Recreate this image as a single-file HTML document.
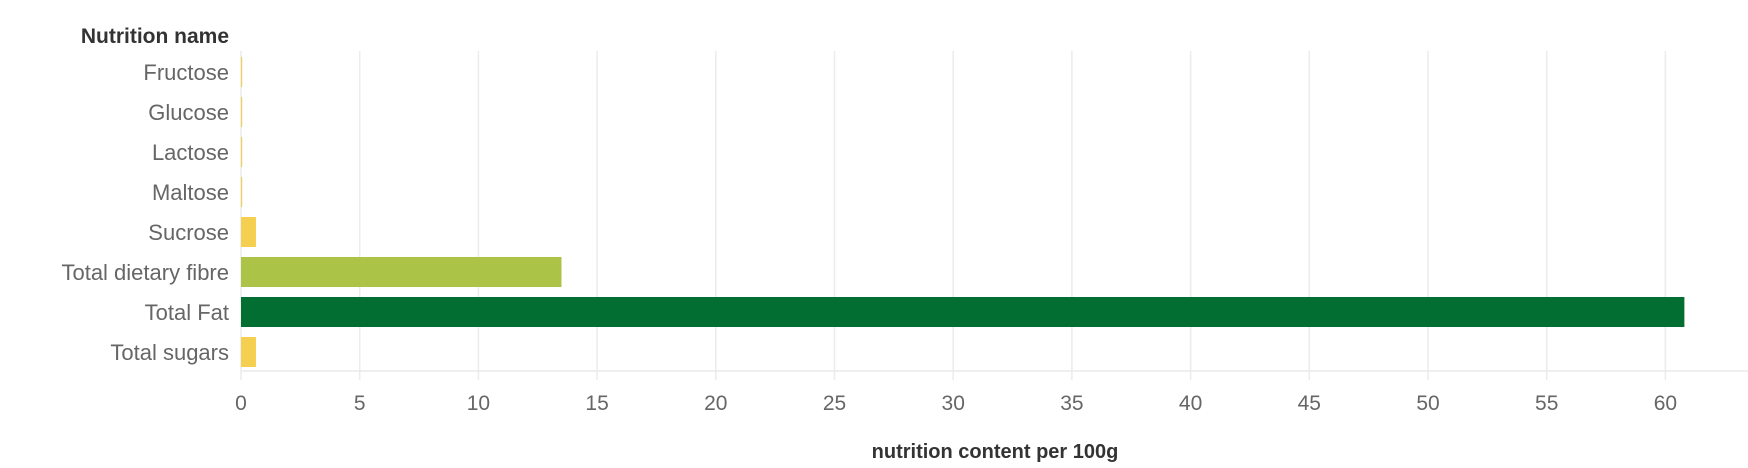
<!DOCTYPE html>
<html><head><meta charset="utf-8"><style>
html,body{margin:0;padding:0;background:#fff;}
svg{display:block;font-family:"Liberation Sans",sans-serif;}
</style></head><body>
<svg id="chart" width="1748" height="468" viewBox="0 0 1748 468" xmlns="http://www.w3.org/2000/svg">
<text x="229" y="43" text-anchor="end" font-size="21" font-weight="bold" fill="#333">Nutrition name</text>
<g id="grid"></g><g id="bars"></g><g id="ylabels"></g><g id="xticks"></g>
<text x="995" y="458" text-anchor="middle" font-size="20" font-weight="bold" fill="#333">nutrition content per 100g</text>
</svg>
<script>
const categories = ["Fructose","Glucose","Lactose","Maltose","Sucrose","Total dietary fibre","Total Fat","Total sugars"];
const values = [0.05,0.05,0.05,0.05,0.63,13.5,60.8,0.63];
const barColors = ["#f5cf4f","#f5cf4f","#f5cf4f","#f5cf4f","#f5cf4f","#abc448","#036e31","#f5cf4f"];
const tickValues = [0,5,10,15,20,25,30,35,40,45,50,55,60];
const NS="http://www.w3.org/2000/svg";
const x0=241, pxPerUnit=23.74, rowTop=52, rowH=40, barH=30, axisY=371;
const xs=v=>x0+v*pxPerUnit;
const ys=i=>rowTop+i*rowH;
function mk(tag,attrs,parent){const e=document.createElementNS(NS,tag);for(const k in attrs)e.setAttribute(k,attrs[k]);parent.appendChild(e);return e;}
const grid=document.getElementById('grid'),bars=document.getElementById('bars'),yl=document.getElementById('ylabels'),xt=document.getElementById('xticks');
tickValues.forEach(t=>{
  const g=mk('line',{x1:xs(t),x2:xs(t),y1:51,y2:380,stroke:'#ececec','stroke-width':1.5},grid);
  
  
  const l=mk('text',{x:xs(t),y:410,'text-anchor':'middle','font-size':21,fill:'#666'},xt);
  l.textContent=t;
  
  
});
const ax=mk('line',{x1:x0,x2:1748,y1:axisY,y2:axisY,stroke:'#eaeaea','stroke-width':1.5},grid);


categories.forEach((c,i)=>{
  const w=Math.max(1,xs(values[i])-x0);
  const r=mk('rect',{x:x0,y:ys(i)+5,width:w,height:barH,fill:barColors[i]},bars);
  
  
  const t=mk('text',{x:229,y:ys(i)+28,'text-anchor':'end','font-size':22,fill:'#666'},yl);
  t.textContent=c;
  
  
});
</script>
</body></html>
